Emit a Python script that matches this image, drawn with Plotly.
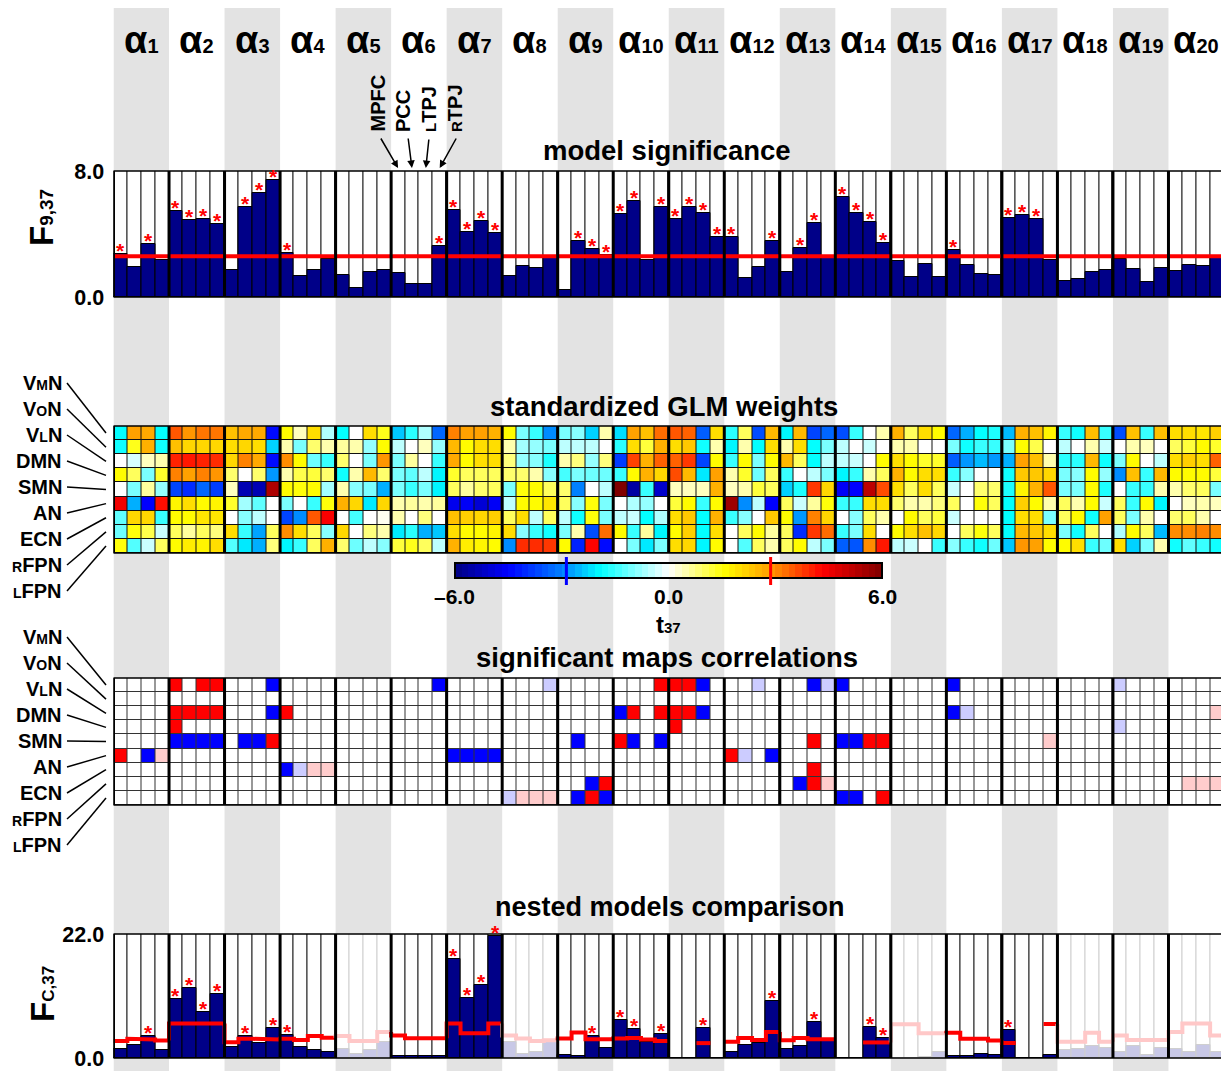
import plotly.graph_objects as go

# page body has an 8px margin: design in reference pixels, shift by OFF
OFF = 8
REF_W, REF_H = 1229, 1079
W, H = REF_W - OFF, REF_H - 2 * OFF
FONT = "Liberation Sans, Arial, Helvetica, sans-serif"
NAVY = "#000088"
FADED_NAVY = "#c8c8e6"
FADED_LINE = "#cfcfcf"
PINK = "#ffc8c8"
BAND = "#e3e3e3"

# ---------------- data ----------------
group_numbers = [str(i) for i in range(1, 21)]
roi_labels = ["MPFC", "PCC", "<span style='font-size:15px'>L</span>TPJ", "<span style='font-size:15px'>R</span>TPJ"]
network_labels = ["V<span style='font-size:14px'>M</span>N", "V<span style='font-size:14px'>O</span>N",
                  "V<span style='font-size:14px'>L</span>N", "DMN", "SMN", "AN", "ECN",
                  "<span style='font-size:14px'>R</span>FPN", "<span style='font-size:14px'>L</span>FPN"]

F_model = [
    2.72, 1.88, 3.38, 2.34,
    5.47, 4.89, 4.97, 4.66,
    1.69, 5.70, 6.60, 7.42,
    2.78, 1.32, 1.73, 2.42,
    1.40, 0.54, 1.57, 1.69,
    1.50, 0.81, 0.81, 3.24,
    5.54, 4.11, 4.85, 4.09,
    1.32, 1.96, 1.84, 2.45,
    0.42, 3.55, 3.07, 2.65,
    5.26, 6.08, 2.34, 5.74,
    4.97, 5.74, 5.35, 3.84,
    3.84, 1.19, 1.92, 3.53,
    1.57, 3.13, 4.70, 2.45,
    6.37, 5.33, 4.76, 3.45,
    2.28, 1.25, 2.07, 1.27,
    2.97, 2.03, 1.46, 1.40,
    5.01, 5.18, 4.95, 2.34,
    1.00, 1.13, 1.61, 1.73,
    2.40, 1.78, 0.98, 1.84,
    1.63, 2.05, 1.98, 2.51]
F_model_thr = 2.58
F_model_max = 8.0

t_VMN = [-1.9, 2.8, 2.7, -1.9, 3.5, 2.9, 3.2, 3.2, 2.4, 2.7, 2.7, -4.4, 1.6, 0.4, 2.0, -0.6,
         -1.9, 0, 2.0, 1.4, -2.4, -1.6, -0.6, -3.3, 3.1, 2.8, 2.8, 2.6, 1.6, -1.0, -1.5, -2.9,
         -1.0, -0.9, -2.3, 0.5, -2.2, 2.8, 2.4, 3.3, 3.5, 3.4, -3.4, 2.0, -1.6, 1.0, -3.6, 2.5,
         -2.0, 2.5, -3.7, -3.3, -3.6, -1.5, 0, 0.5, 2.6, 1.0, 2.0, 1.6, -3.3, -2.6, -1.9, -1.7,
         -2.5, 2.6, 2.4, 1.7, -1.5, -1.8, 2.4, -1.5, -3.6, 2.4, -1.5, 2.4, 2.0, 2.0, 1.9, 2.2]
t_VON = [-1.8, 1.4, 2.6, -1.8, 2.4, 2.1, 2.1, 2.1, 2.0, 2.1, 2.0, -2.3, 0.5, -1.0, 0.9, 0.5,
         0.6, 0.5, -0.8, 1.6, -0.5, 0, 0.4, -0.8, 2.5, 1.6, 2.0, 2.0, 0.5, -0.7, -0.8, -1.0,
         -0.5, -0.5, -0.5, 0, -1.6, 2.0, 1.2, 2.6, 2.0, 2.3, -1.8, 0.5, -2.0, 0.5, -1.9, 2.0,
         0.5, 2.0, -1.9, -1.0, -0.5, 0, -0.4, 0, 0.5, 0.5, 0, 0, -1.0, -1.8, -1.5, -1.5,
         -1.0, 1.6, 1.1, 0, -0.5, 0, 0.5, -0.4, 0, 0.5, 0.4, 0, 1.0, 1.2, 1.6, 1.3]
t_VLN = [0, -0.3, 0.4, 0.5, 4.0, 4.1, 4.0, 3.9, 2.1, 3.1, 2.7, -4.4, 3.0, 1.6, -1.1, -1.5,
         0.9, 0, -1.0, 2.9, -1.0, 0.6, 0, -1.5, 2.7, 1.6, 2.0, 2.0, 0.8, -0.8, -0.9, -1.7,
         0.5, 0.8, -0.8, 0.8, -3.8, 3.7, 2.6, 3.4, 3.4, 3.8, -3.7, 1.6, -1.5, 1.6, -1.0, 1.6,
         2.5, 1.0, -1.9, -0.5, -0.5, -0.4, 0, 1.6, 2.0, 1.6, 1.3, 1.3, -3.4, -2.8, -2.5, -2.8,
         -2.6, 2.8, 2.4, 0.5, -1.6, -1.6, 2.5, -1.8, -1.0, 1.6, 0, -0.5, 2.0, 2.2, 2.0, 3.4]
t_DMN = [1.6, 1.0, -1.0, 1.3, 3.1, 2.8, 3.1, 2.9, 0.9, 0, 0.9, -2.8, 0.5, 1.1, 1.2, 0.9,
         -1.8, 0.5, 2.5, 0.9, -1.0, -1.2, -0.5, -2.0, 1.3, 1.0, 1.0, 1.0, 0.9, 0.9, 0.5, -0.9,
         -1.4, -1.0, -1.1, -1.1, -1.5, 1.6, 2.6, 2.1, 3.6, 2.5, -2.1, 2.8, 0.5, 1.3, -1.1, 1.0,
         -1.5, 0, -0.5, -1.0, -2.0, -1.5, 0.5, 1.0, 2.6, 1.6, 2.0, 2.0, -1.5, -0.9, 0, 0,
         -1.8, 2.3, 2.3, 2.1, -1.0, -0.9, 1.6, -0.8, -2.9, 2.4, -1.5, 2.5, 1.6, 1.6, 1.6, 1.2]
t_SMN = [0, -1.0, 0.6, -0.8, -3.7, -4.0, -3.3, -3.8, 0.4, -5.4, -5.4, 5.4, 1.6, 1.5, 1.6, -0.7,
         0.5, -0.9, -1.0, -2.6, -1.0, -1.5, -1.0, -2.0, 1.0, 0.6, 0.9, 1.0, -1.0, 1.5, 1.6, 1.0,
         0.9, -3.0, 0, -0.5, 6.0, -5.6, -1.5, -5.1, 0.4, 0.4, 0.4, 2.6, 0.4, 0.5, 1.2, 1.0,
         -2.3, -1.7, 3.8, 2.1, -4.6, -4.5, 5.2, 3.6, 2.0, 1.0, 2.0, 1.0, -0.4, 0, 0.9, 0.9,
         -1.7, 1.7, 2.6, 3.5, -1.0, -1.0, 1.6, -1.7, 0, -1.5, -1.5, 0.5, 0.5, 0.9, 1.0, -1.0]
t_AN = [4.5, -2.6, -4.5, 4.2, 1.7, 2.0, 1.6, 1.7, 1.3, -0.7, -1.2, 0, -1.0, 0, -1.5, 1.5,
        2.6, 2.1, -2.1, 2.1, 0.5, 0.6, 0.5, 0.6, -4.7, -4.6, -5.0, -4.6, -0.5, 1.6, 1.6, 1.9,
        1.0, -0.9, 1.5, -1.0, 0, -0.6, -0.8, 0, 1.2, 1.6, -1.5, 1.6, 5.6, -2.9, -0.5, -4.5,
        1.0, -0.4, 0.6, 1.5, -1.5, -1.5, 2.0, 2.0, 0.9, 0.5, 0.5, 0.8, 1.0, 0, 1.5, 1.0,
        -1.9, 2.2, 1.6, 0.5, 1.0, 0.5, 1.6, -0.4, 1.0, -1.5, 1.6, -2.0, 0, 0.4, 0.5, 0.4]
t_ECN = [-1.2, 2.1, 2.1, -1.5, 1.6, 1.6, 1.9, 1.9, 0, -0.9, -0.5, 0, -3.7, -2.9, 3.5, 4.4,
         0, -1.4, 0, 0.1, 0.5, 0, 0.8, 0, 2.4, 2.2, 2.1, 2.2, 1.0, 2.0, -0.5, 1.0,
         -0.5, -1.8, 1.5, -1.0, -0.5, -0.4, -1.9, -0.6, 2.0, 2.3, -1.9, 2.6, -1.5, -0.9, 0, 2.3,
         1.6, -2.8, 3.1, 2.1, 0, -0.9, 1.0, 0.5, 0, 1.6, 1.0, 1.2, -0.4, 0, 0, 0,
         -1.9, 2.0, 2.0, -1.0, 1.0, 1.6, -1.8, 2.8, 1.0, -1.0, 0.5, 0, 0.9, 1.0, 0.5, 0]
t_RFPN = [-1.1, 1.5, 1.1, -0.4, 1.0, 0.6, 1.0, 0.8, 2.0, -1.5, -2.7, 1.0, 3.0, 2.0, 1.0, -0.9,
          2.1, 0, 0.8, 0.5, -2.1, -1.6, -2.6, -2.4, 2.0, 1.6, 1.6, 1.7, 2.0, -0.9, -1.5, -1.8,
          -1.0, 0.5, -3.6, 3.3, 1.6, -1.5, 0.6, -2.0, 1.6, 2.2, -1.9, 2.0, 0, 1.0, 1.6, 0.6,
          1.0, -4.0, 3.8, 3.3, -1.5, -1.0, 2.0, 0, 1.6, 2.0, 2.4, 2.1, 0, 1.0, 1.5, 1.0,
          -1.9, 2.5, 2.3, 2.0, -1.0, -1.8, 1.0, 0, -0.6, 1.6, 1.0, -2.5, 3.0, 3.0, 3.1, 3.0]
t_LFPN = [1.5, -1.3, -0.4, 1.0, 1.6, 1.8, 1.7, 2.0, -1.3, -2.1, -2.6, 0.8, -2.0, -1.5, 1.0, 2.6,
          0.9, -1.1, -0.5, -0.9, 1.2, 1.4, 1.0, -0.5, 2.6, 1.8, 1.7, 1.6, -2.9, 3.9, 3.9, 3.8,
          1.6, -4.1, 4.3, -4.4, 0, -1.0, -2.1, -1.0, 2.0, 2.1, -2.0, 1.6, 0, -1.3, 1.0, 0.5,
          1.0, 1.6, -0.5, -1.0, -3.4, -3.5, 3.0, 4.1, -0.5, -0.4, 0, -1.5, -0.9, -1.5, -1.8, -1.1,
          -2.4, 2.9, 2.8, 1.6, 1.6, 2.0, -1.5, -1.1, 2.0, -2.3, -1.0, 0.5, -1.8, -1.2, -1.5, -1.8]
t_range = 6.0
t_crit = 2.87
t_ticks = [-6.0, 0.0, 6.0]
t_ticklabels = ["–6.0", "0.0", "6.0"]

# significant correlation codes: 2 = positive, 1 = weak positive, -1 = weak negative, -2 = negative
c_VMN = [0,0,0,0, 2,0,2,2, 0,0,0,-2, 0,0,0,0, 0,0,0,0, 0,0,0,-2, 0,0,0,0, 0,0,0,-1, 0,0,0,0, 0,0,0,2,
         2,2,-2,0, 0,0,-1,0, 0,0,-2,-1, -2,0,0,0, 0,0,0,0, -2,0,0,0, 0,0,0,0, 0,0,0,0, -1,0,0,0, 0,0,0,0]
c_VON = [0] * 80
c_VLN = [0,0,0,0, 2,2,2,2, 0,0,0,-2, 2,0,0,0, 0,0,0,0, 0,0,0,0, 0,0,0,0, 0,0,0,0, 0,0,0,0, -2,2,0,2,
         2,2,-2,0, 0,0,0,0, 0,0,0,0, 0,0,0,0, 0,0,0,0, -2,-1,0,0, 0,0,0,0, 0,0,0,0, 0,0,0,0, 0,0,0,1]
c_DMN = [0,0,0,0, 2,0,0,0, 0,0,0,0, 0,0,0,0, 0,0,0,0, 0,0,0,0, 0,0,0,0, 0,0,0,0, 0,0,0,0, 0,0,0,0,
         2,0,0,0, 0,0,0,0, 0,0,0,0, 0,0,0,0, 0,0,0,0, 0,0,0,0, 0,0,0,0, 0,0,0,0, -1,0,0,0, 0,0,0,0]
c_SMN = [0,0,0,0, -2,-2,-2,-2, 0,-2,-2,2, 0,0,0,0, 0,0,0,0, 0,0,0,0, 0,0,0,0, 0,0,0,0, 0,-2,0,0, 2,-2,0,-2,
         0,0,0,0, 0,0,0,0, 0,0,2,0, -2,-2,2,2, 0,0,0,0, 0,0,0,0, 0,0,0,1, 0,0,0,0, 0,0,0,0, 0,0,0,0]
c_AN = [2,0,-2,1, 0,0,0,0, 0,0,0,0, 0,0,0,0, 0,0,0,0, 0,0,0,0, -2,-2,-2,-2, 0,0,0,0, 0,0,0,0, 0,0,0,0,
        0,0,0,0, 2,-1,0,-2, 0,0,0,0, 0,0,0,0, 0,0,0,0, 0,0,0,0, 0,0,0,0, 0,0,0,0, 0,0,0,0, 0,0,0,0]
c_ECN = [0,0,0,0, 0,0,0,0, 0,0,0,0, -2,-1,1,1, 0,0,0,0, 0,0,0,0, 0,0,0,0, 0,0,0,0, 0,0,0,0, 0,0,0,0,
         0,0,0,0, 0,0,0,0, 0,0,2,0, 0,0,0,0, 0,0,0,0, 0,0,0,0, 0,0,0,0, 0,0,0,0, 0,0,0,0, 0,0,0,0]
c_RFPN = [0,0,0,0, 0,0,0,0, 0,0,0,0, 0,0,0,0, 0,0,0,0, 0,0,0,0, 0,0,0,0, 0,0,0,0, 0,0,-2,2, 0,0,0,0,
          0,0,0,0, 0,0,0,0, 0,-2,2,1, 0,0,0,0, 0,0,0,0, 0,0,0,0, 0,0,0,0, 0,0,0,0, 0,0,0,0, 0,1,1,1]
c_LFPN = [0,0,0,0, 0,0,0,0, 0,0,0,0, 0,0,0,0, 0,0,0,0, 0,0,0,0, 0,0,0,0, -1,1,1,1, 0,-2,2,-2, 0,0,0,0,
          0,0,0,0, 0,0,0,0, 0,0,0,0, -2,-2,0,2, 0,0,0,0, 0,0,0,0, 0,0,0,0, 0,0,0,0, 0,0,0,0, 0,0,0,0]

F_nested = [
    1.55, 2.24, 3.96, 1.44,
    10.45, 12.41, 8.10, 11.30,
    1.90, 3.90, 2.70, 5.40,
    4.00, 1.95, 1.38, 0.98,
    1.60, 0.70, 1.40, 2.90,
    0.40, 0.35, 0.35, 0.40,
    17.50, 10.70, 13.00, 21.70,
    2.76, 0.75, 0.98, 2.76,
    0.46, 0.29, 3.90, 1.72,
    6.72, 5.17, 2.87, 4.30,
    0.00, 0.00, 5.34, 0.00,
    1.15, 2.24, 2.58, 10.05,
    1.55, 2.13, 6.30, 3.30,
    0.00, 0.00, 5.46, 3.56,
    0.00, 0.00, 0.15, 1.00,
    0.40, 0.40, 0.70, 0.57,
    5.05, 0.00, 0.00, 0.46,
    1.44, 1.60, 2.07, 1.72,
    1.15, 2.07, 0.57, 1.72,
    1.55, 0.98, 2.24, 1.15]
F_nested_thr = [
    3.0, 3.4, 3.3, 3.1,
    6.1, 6.1, 6.1, 6.1,
    2.8, 3.4, 3.4, 3.3,
    3.4, 3.2, 3.9, 3.6,
    3.9, 3.0, 3.0, 4.6,
    4.0, 3.5, 3.5, 3.5,
    6.1, 4.4, 4.4, 6.1,
    4.0, 3.45, 3.0, 3.15,
    3.45, 4.54, 3.33, 3.33,
    3.45, 3.55, 3.3, 3.0,
    None, None, 2.64, None,
    2.87, 3.56, 3.2, 4.6,
    3.16, 3.56, 3.33, 3.33,
    None, None, 2.76, 2.76,
    6.0, 6.0, 4.4, 4.4,
    4.5, 3.4, 3.4, 3.1,
    2.64, None, None, 6.03,
    2.87, 2.87, 4.5, 2.87,
    4.0, 3.2, 3.2, 3.2,
    4.6, 6.1, 6.1, 4.0]
F_nested_max = 22.0

# ---------------- derived ----------------
n_groups, n_roi = 20, 4
n = n_groups * n_roi
xs = list(range(n))
glm_t = [t_VMN, t_VON, t_VLN, t_DMN, t_SMN, t_AN, t_ECN, t_RFPN, t_LFPN]
corr = [c_VMN, c_VON, c_VLN, c_DMN, c_SMN, c_AN, c_ECN, c_RFPN, c_LFPN]
n_rows = len(glm_t)
sig_model = [v > F_model_thr for v in F_model]
faded = [not any(sig_model[g * n_roi:(g + 1) * n_roi]) for g in range(n_groups)]
bar_faded = [faded[i // n_roi] for i in xs]
sig_nested = [(t is not None) and (v > t) and not bar_faded[i]
              for i, (v, t) in enumerate(zip(F_nested, F_nested_thr))]
n_cb = 64
cb_levels = [-t_range + (k + 0.5) * 2 * t_range / n_cb for k in range(n_cb)]

# ---------------- geometry helpers (reference pixels) ----------------
X0, X1 = 113.5, 1224.0
CB_L, CB_R, CB_T, CB_B = 455, 882, 563, 578


def px(x):
    return (x - OFF) / W


def py(y):
    return 1 - (y - OFF) / H


def yd(top, bottom):
    return [py(bottom), py(top)]


P1 = (171, 297)
P2 = (426, 553)
P3 = (678, 805)
P4 = (934, 1058)

fig = go.Figure()

# panel 1: model significance
fig.add_bar(x=xs, y=[F_model_max] * n, width=1, xaxis="x", yaxis="y",
            marker=dict(color="white", line=dict(color="#222", width=1)), hoverinfo="skip")
fig.add_bar(x=xs, y=F_model, width=1, xaxis="x", yaxis="y",
            marker=dict(color=NAVY, line=dict(color="black", width=1)))
fig.add_scatter(x=[-0.5, n - 0.5], y=[F_model_thr, F_model_thr], mode="lines", xaxis="x", yaxis="y",
                line=dict(color="red", width=4))

# panel 2: GLM weights
cs = [[0.0, "#000080"], [0.125, "#0000ff"], [0.25, "#0080ff"], [0.34, "#00ffff"],
      [0.5, "#ffffff"], [0.63, "#ffff00"], [0.73, "#ffa500"], [0.86, "#ff0000"], [1.0, "#800000"]]
fig.add_heatmap(z=glm_t, x=xs, y=list(range(n_rows)), zmin=-t_range, zmax=t_range, colorscale=cs,
                xgap=1, ygap=1, xaxis="x2", yaxis="y2", showscale=False)
fig.add_heatmap(z=[cb_levels], zmin=-t_range, zmax=t_range, colorscale=cs, showscale=False,
                xaxis="x5", yaxis="y5", hoverinfo="skip")

# panel 3: significant correlations
disc = [[0, "#0000ff"], [0.125, "#0000ff"], [0.125, "#ccccff"], [0.375, "#ccccff"],
        [0.375, "#ffffff"], [0.625, "#ffffff"], [0.625, "#ffcccc"], [0.875, "#ffcccc"],
        [0.875, "#ff0000"], [1, "#ff0000"]]
fig.add_heatmap(z=corr, x=xs, y=list(range(n_rows)), zmin=-2, zmax=2, colorscale=disc, showscale=False,
                xgap=1, ygap=1, xaxis="x3", yaxis="y3")

# panel 4: nested models comparison
line_cols = [FADED_LINE if f else "#222" for f in bar_faded]
fig.add_bar(x=xs, y=[F_nested_max] * n, width=1, xaxis="x4", yaxis="y4",
            marker=dict(color="white", line=dict(color=line_cols, width=1)), hoverinfo="skip")
fig.add_bar(x=xs, y=F_nested, width=1, xaxis="x4", yaxis="y4",
            marker=dict(color=[FADED_NAVY if f else NAVY for f in bar_faded],
                        line=dict(color=[FADED_LINE if f else "black" for f in bar_faded], width=1)))
for g in range(n_groups):
    lx, ly = [], []
    first = g * n_roi
    if g > 0 and F_nested_thr[first - 1] is not None and F_nested_thr[first] is not None:
        lx.append(first - 0.5)
        ly.append(F_nested_thr[first - 1])
    for i in range(first, first + n_roi):
        t = F_nested_thr[i]
        if t is None:
            lx.append(None)
            ly.append(None)
            continue
        lx += [i - 0.5, i + 0.5]
        ly += [t, t]
    fig.add_scatter(x=lx, y=ly, mode="lines", xaxis="x4", yaxis="y4", connectgaps=False,
                    line=dict(color=PINK if faded[g] else "red", width=4))

# ---------------- shapes ----------------
shapes = []
for g in range(0, n_groups, 2):
    shapes.append(dict(type="rect", xref="x", yref="paper", x0=g * n_roi - 0.5, x1=(g + 1) * n_roi - 0.5,
                       y0=0, y1=py(8), fillcolor=BAND, line=dict(width=0), layer="below"))
shapes.append(dict(type="rect", xref="x2", yref="y2", x0=-0.5, x1=n - 0.5, y0=-0.5, y1=n_rows - 0.5,
                   fillcolor="#111", line=dict(width=0), layer="below"))
shapes.append(dict(type="rect", xref="x3", yref="y3", x0=-0.5, x1=n - 0.5, y0=-0.5, y1=n_rows - 0.5,
                   fillcolor="#333", line=dict(width=0), layer="below"))
for xa, ya in [("x", "y"), ("x2", "y2"), ("x3", "y3"), ("x4", "y4")]:
    shapes.append(dict(type="rect", xref=xa, yref=ya + " domain", x0=-0.5, x1=n - 0.5, y0=0, y1=1,
                       line=dict(color="black", width=1.5), layer="above"))
    for g in range(n_groups + 1):
        shapes.append(dict(type="line", xref=xa, yref=ya + " domain", x0=g * n_roi - 0.5, x1=g * n_roi - 0.5,
                           y0=0, y1=1, line=dict(color="black", width=3), layer="above"))
shapes.append(dict(type="rect", xref="x5 domain", yref="y5 domain", x0=0, x1=1, y0=0, y1=1,
                   line=dict(color="black", width=2), layer="above"))
for tv, col in [(-t_crit, "#0000ff"), (t_crit, "#ff0000")]:
    cx = CB_L + (tv + t_range) / (2 * t_range) * (CB_R - CB_L)
    shapes.append(dict(type="line", xref="paper", yref="paper", x0=px(cx), x1=px(cx), y0=py(557), y1=py(585),
                       line=dict(color=col, width=3), layer="above"))
rh = (P2[1] - P2[0]) / n_rows
for lab_top, row_top in [(383, P2[0]), (637, P3[0])]:
    for r in range(n_rows):
        shapes.append(dict(type="line", xref="paper", yref="paper", x0=px(67), x1=px(106),
                           y0=py(lab_top + 26 * r), y1=py(row_top + rh * (r + 0.5)),
                           line=dict(color="black", width=1.5)))

# ---------------- annotations ----------------
ann = []


def text(t, x, y, size, xanchor="center", yanchor="middle", angle=0, color="black"):
    ann.append(dict(text=t, x=px(x), y=py(y), xref="paper", yref="paper", showarrow=False,
                    xanchor=xanchor, yanchor=yanchor, textangle=angle,
                    font=dict(family=FONT, size=size, color=color, weight="bold")))


for g, num in enumerate(group_numbers):
    ann.append(dict(text=f"α<span style='font-size:20px'>{num}</span>", x=g * n_roi + 1.5, y=py(40),
                    xref="x", yref="paper", showarrow=False, xanchor="center", yanchor="middle",
                    font=dict(family=FONT, size=38, color="black", weight="bold")))

text("model significance", 667, 150, 27.5)
text("standardized GLM weights", 664, 406, 27.5)
text("significant maps correlations", 667, 657, 27.5)
text("nested models comparison", 670, 907, 27)
text("t<span style='font-size:15px'>37</span>", 668, 624, 24)
text("F<span style='font-size:19px'>9,37</span>", 42, 218, 33, angle=-90)
text("F<span style='font-size:17px'>C,37</span>", 42, 994, 33, angle=-90)
for tv, tl in zip(t_ticks, t_ticklabels):
    text(tl, CB_L + (tv + t_range) / (2 * t_range) * (CB_R - CB_L), 596, 21)

for r, lab in enumerate(network_labels):
    text(lab, 64, 383 + 26 * r, 20, xanchor="right")
    text(lab, 64, 637 + 26 * r, 20, xanchor="right")

roi_text_x = [378, 403, 429, 455]
roi_tail = [(380, 137), (408, 137), (429, 138), (457, 137)]
for k, lab in enumerate(roi_labels):
    text(lab, roi_text_x[k], 134, 20, yanchor="bottom", angle=-90)
    bar_i = 5 * n_roi + k
    hx = X0 + (bar_i + 0.5) / n * (X1 - X0)
    ann.append(dict(text="", x=px(hx), y=py(168), xref="paper", yref="paper", showarrow=True,
                    ax=roi_tail[k][0] - hx, ay=roi_tail[k][1] - 168, axref="pixel", ayref="pixel",
                    arrowhead=2, arrowsize=1, arrowwidth=1.5, arrowcolor="black", standoff=0))

for i in xs:
    if sig_model[i]:
        ann.append(dict(text="*", x=i, y=F_model[i], xref="x", yref="y", showarrow=False,
                        yanchor="bottom", yshift=-10, font=dict(family=FONT, size=21, color="red", weight="bold")))
    if sig_nested[i]:
        ann.append(dict(text="*", x=i, y=F_nested[i], xref="x4", yref="y4", showarrow=False,
                        yanchor="bottom", yshift=-10, font=dict(family=FONT, size=21, color="red", weight="bold")))

# ---------------- layout ----------------
xdom = [px(X0), px(X1)]
xcommon = dict(range=[-0.5, n - 0.5], domain=xdom, visible=False, fixedrange=True)
tickfont = dict(family=FONT, size=21.5, color="black", weight="bold")
ycommon = dict(showgrid=False, zeroline=False, showline=False, ticks="outside", ticklen=4,
               tickcolor="rgba(0,0,0,0)", tickfont=tickfont, fixedrange=True)

fig.update_layout(
    width=W, height=H, autosize=False,
    margin=dict(l=0, r=0, t=0, b=0, pad=0, autoexpand=False),
    paper_bgcolor="white", plot_bgcolor="white",
    showlegend=False, barmode="overlay", bargap=0,
    font=dict(family=FONT, color="black"),
    xaxis=dict(**xcommon, anchor="y"),
    xaxis2=dict(**xcommon, anchor="y2"),
    xaxis3=dict(**xcommon, anchor="y3"),
    xaxis4=dict(**xcommon, anchor="y4"),
    xaxis5=dict(domain=[px(CB_L), px(CB_R)], range=[-0.5, n_cb - 0.5], visible=False, anchor="y5",
                fixedrange=True),
    yaxis=dict(**ycommon, domain=yd(*P1), range=[0, F_model_max], tickvals=[0, F_model_max],
               ticktext=["0.0", "8.0"], anchor="x"),
    yaxis2=dict(domain=yd(*P2), range=[n_rows - 0.5, -0.5], visible=False, anchor="x2", fixedrange=True),
    yaxis3=dict(domain=yd(*P3), range=[n_rows - 0.5, -0.5], visible=False, anchor="x3", fixedrange=True),
    yaxis4=dict(**ycommon, domain=yd(*P4), range=[0, F_nested_max], tickvals=[0, F_nested_max],
                ticktext=["0.0", "22.0"], anchor="x4"),
    yaxis5=dict(domain=yd(CB_T, CB_B), range=[-0.5, 0.5], visible=False, anchor="x5", fixedrange=True),
    shapes=shapes,
    annotations=ann,
)

fig.write_html("out.html")
